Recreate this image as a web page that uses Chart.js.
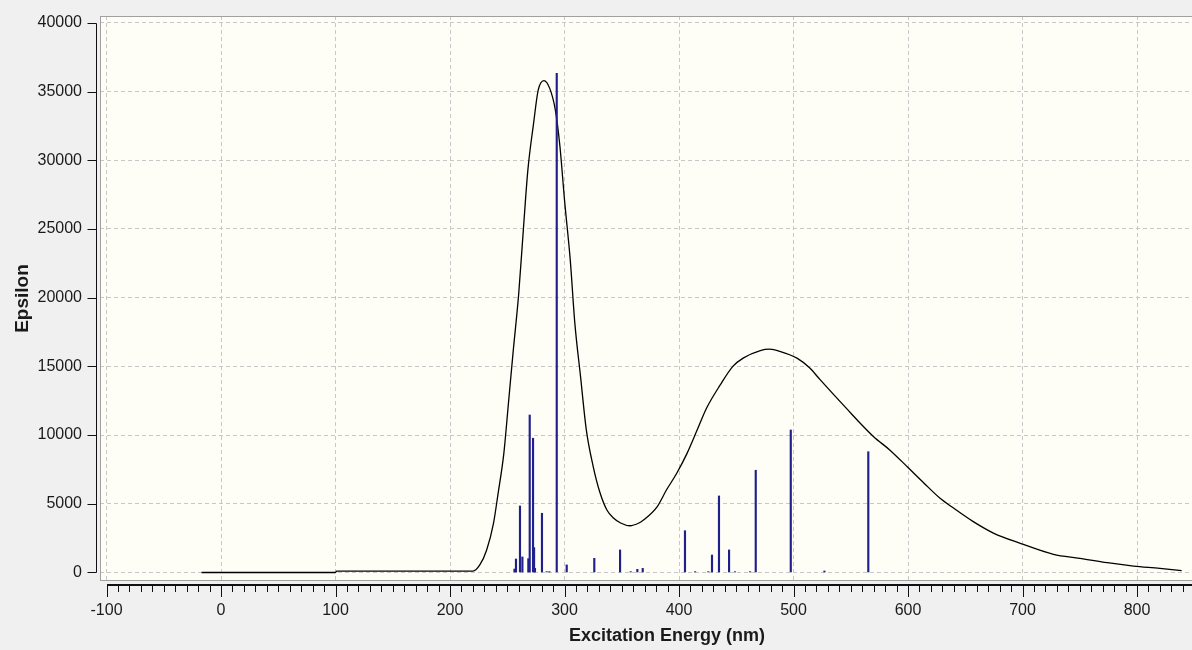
<!DOCTYPE html>
<html>
<head>
<meta charset="utf-8">
<title>UV-Vis spectrum</title>
<script src="https://cdn.jsdelivr.net/npm/chart.js@4.4.1/dist/chart.umd.min.js"></script>
<style>
  html, body { margin: 0; padding: 0; overflow: hidden; background: #f0f0f0; }
  #wrap { width: 1192px; height: 650px; overflow: hidden; }
</style>
</head>
<body>
<div id="wrap"><canvas id="spectrum" width="1234" height="650"></canvas></div>
<script>
// broadened spectrum (nm / epsilon)
const curveNm = [-17, 100, 101, 220, 226, 232, 238, 242, 247, 251, 255, 260, 264, 268,
  273, 277, 282, 287, 292, 296, 300, 305, 309, 314, 319, 325, 331, 337, 343, 349, 357, 365,
  369, 381, 389, 398, 407, 416, 424, 436, 447, 456, 471, 479, 488, 503, 514, 523, 545, 570,
  584, 600, 614, 628, 640, 657, 675, 698, 727, 750, 774, 797, 820, 839];
const curveEps = [0, 0, 100, 100, 550, 1640, 3600, 5760, 8670, 12300, 15950, 20300, 24900, 29300,
  32700, 35100, 35800, 35250, 33650, 31000, 27100, 22750, 18150, 14250, 10400, 7730, 5800, 4550, 3950, 3600, 3400, 3600,
  3820, 4800, 6000, 7220, 8670, 10400, 11950, 13650, 15000, 15600, 16150, 16250, 16100, 15600, 14900, 14050, 12050, 9880,
  8920, 7640, 6500, 5400, 4670, 3700, 2850, 2125, 1320, 1030, 710, 470, 300, 130];

// individual excitations
const stickNm = [256.3, 257.6, 261.1, 263.2, 268.4, 269.6, 272.5, 273.4, 274.2, 280.3,
  284.4, 286.8, 293.2, 301.9, 326.0, 348.5, 357.8, 363.6, 368.3, 405.2,
  414.0, 425.6, 428.8, 434.9, 443.7, 448.9, 462.0, 467.0, 497.6, 527.0, 565.3];
const stickEps = [250, 980, 4840, 1130, 1010, 11460, 9770, 1810, 300, 4310,
  60, 60, 36330, 550, 1030, 1640, 60, 230, 300, 3040,
  60, 60, 1270, 5570, 1640, 60, 60, 7440, 10370, 110, 8790];

const xTicks = [-100, 0, 100, 200, 300, 400, 500, 600, 700, 800];
const yTicks = [0, 5000, 10000, 15000, 20000, 25000, 30000, 35000, 40000];

const FONT = "'Liberation Sans', Arial, sans-serif";

// plot background, frame and the detached axes with minor ticks
const frame = {
  id: 'frame',
  beforeDraw(chart) {
    const { ctx, chartArea: a } = chart;
    ctx.save();
    ctx.fillStyle = '#f0f0f0';
    ctx.fillRect(0, 0, chart.width, chart.height);
    ctx.fillStyle = '#fefef6';
    ctx.fillRect(a.left, a.top, a.right - a.left, a.bottom - a.top);
    ctx.restore();
  },
  afterDraw(chart) {
    const { ctx, chartArea: a, scales: { x, y } } = chart;
    ctx.save();
    ctx.lineWidth = 1;
    ctx.strokeStyle = '#a0a0a0';
    ctx.strokeRect(a.left + 0.5, a.top + 0.5, a.right - a.left + 2, a.bottom - a.top - 1);

    ctx.strokeStyle = '#111';
    // y axis
    const ax = a.left - 3.5;
    ctx.beginPath();
    ctx.moveTo(ax, Math.round(y.getPixelForValue(yTicks[0])) + 0.5);
    ctx.lineTo(ax, Math.round(y.getPixelForValue(yTicks[yTicks.length - 1])) + 0.5);
    yTicks.forEach(v => {
      const py = Math.round(y.getPixelForValue(v)) + 0.5;
      ctx.moveTo(ax - 9, py);
      ctx.lineTo(ax, py);
    });
    ctx.stroke();

    // x axis
    const ay = a.bottom + 4;
    ctx.lineWidth = 2;
    ctx.beginPath();
    ctx.moveTo(Math.round(x.getPixelForValue(xTicks[0])), ay);
    ctx.lineTo(chart.width, ay);
    ctx.stroke();
    ctx.lineWidth = 1;
    ctx.beginPath();
    for (let v = xTicks[0]; v <= x.max; v += 10) {
      const px = Math.round(x.getPixelForValue(v)) + 0.5;
      const len = xTicks.includes(v) ? 12 : 7;
      ctx.moveTo(px, ay);
      ctx.lineTo(px, ay + len);
    }
    ctx.stroke();
    ctx.restore();
  }
};

new Chart(document.getElementById('spectrum'), {
  type: 'line',
  data: {
    datasets: [
      {
        type: 'bar',
        label: 'Excitations',
        data: stickNm.map((v, i) => ({ x: v, y: stickEps[i] })),
        backgroundColor: '#20208c',
        barThickness: 1.5,
        grouped: false,
        order: 1
      },
      {
        type: 'line',
        label: 'Epsilon',
        data: curveNm.map((v, i) => ({ x: v, y: curveEps[i] })),
        borderColor: '#000',
        borderWidth: 1.3,
        pointRadius: 0,
        fill: false,
        cubicInterpolationMode: 'monotone',
        order: 2
      }
    ]
  },
  options: {
    responsive: false,
    animation: false,
    devicePixelRatio: 1,
    layout: { padding: { top: 16, left: 0, right: 0, bottom: 0 } },
    plugins: { legend: { display: false }, tooltip: { enabled: false } },
    scales: {
      x: {
        type: 'linear',
        min: -105.7,
        max: 884.7,
        offset: false,
        grid: { offset: false, color: '#c8c8c8', drawTicks: false },
        border: { display: false, dash: [4, 3] },
        ticks: {
          autoSkip: false, maxRotation: 0, minRotation: 0, padding: 20,
          color: '#1a1a1a', font: { family: FONT, size: 16 },
          callback: v => String(v)
        },
        title: {
          display: true, text: 'Excitation Energy (nm)', color: '#1a1a1a',
          font: { family: FONT, size: 18, weight: 'bold' }, padding: { top: 0, bottom: 3 }
        },
        afterBuildTicks: s => { s.ticks = xTicks.map(v => ({ value: v })); },
        afterFit: s => { s.height = 69; s.paddingLeft = 0; s.paddingRight = 0; }
      },
      y: {
        type: 'linear',
        min: -620,
        max: 40500,
        grid: { color: '#c8c8c8', drawTicks: false },
        border: { display: false, dash: [4, 3] },
        ticks: {
          padding: 18, color: '#1a1a1a', font: { family: FONT, size: 16 },
          callback: v => String(v)
        },
        title: {
          display: true, text: 'Epsilon', color: '#1a1a1a',
          font: { family: FONT, size: 19, weight: 'bold' }, padding: { top: 11, bottom: 0 }
        },
        afterBuildTicks: s => { s.ticks = yTicks.map(v => ({ value: v })); },
        afterFit: s => { s.width = 100; s.paddingTop = 0; s.paddingBottom = 0; }
      }
    }
  },
  plugins: [frame]
});
</script>
</body>
</html>
